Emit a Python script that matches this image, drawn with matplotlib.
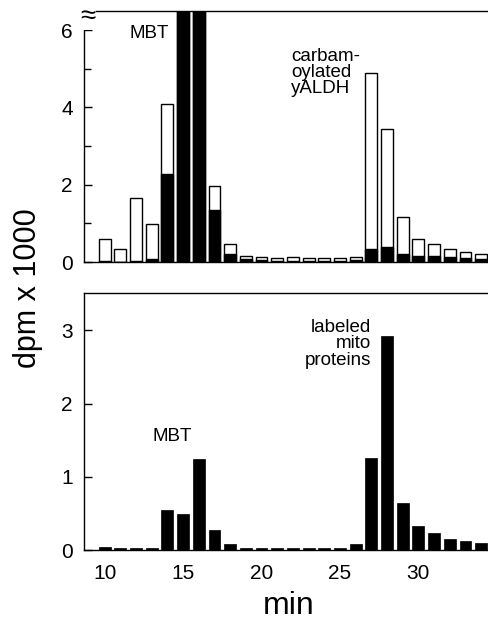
import numpy as np
import matplotlib.pyplot as plt

plt.rcParams['font.family'] = ['Liberation Sans', 'DejaVu Sans']

# fraction minutes
minutes = list(range(10, 35))

# top panel: total (open bar) and black portion, dpm x 1000
top_total = [0.59, 0.35, 1.65, 0.98, 4.08, 7.5, 7.5, 1.98, 0.46, 0.16, 0.12, 0.11,
             0.12, 0.11, 0.11, 0.11, 0.14, 4.88, 3.45, 1.16, 0.59, 0.47, 0.34, 0.27, 0.20]
top_black = [0.02, 0.01, 0.02, 0.07, 2.28, 7.5, 7.5, 1.34, 0.22, 0.08, 0.05, 0.04,
             0.04, 0.04, 0.04, 0.04, 0.05, 0.33, 0.40, 0.22, 0.16, 0.16, 0.13, 0.11, 0.09]

# bottom panel: labeled mito proteins
bottom_vals = [0.05, 0.03, 0.03, 0.03, 0.55, 0.49, 1.25, 0.28, 0.08, 0.03, 0.03, 0.03,
               0.03, 0.03, 0.03, 0.03, 0.08, 1.26, 2.92, 0.64, 0.33, 0.24, 0.155, 0.12, 0.1]

fig = plt.figure(figsize=(4.89, 6.21), dpi=100)
ax1 = fig.add_axes([0.172, 0.578, 0.828, 0.404])
ax2 = fig.add_axes([0.172, 0.114, 0.828, 0.414])

w = 0.76
ax1.bar(minutes, top_total, width=w, color='white', edgecolor='black', linewidth=1.0)
ax1.bar(minutes, top_black, width=w, color='black', edgecolor='black', linewidth=1.0)
ax2.bar(minutes, bottom_vals, width=w, color='black', edgecolor='black', linewidth=0.5)

for ax in (ax1, ax2):
    ax.set_xlim(8.69, 34.5)
    ax.spines['right'].set_visible(False)
    for s in ('left', 'top', 'bottom'):
        ax.spines[s].set_linewidth(1.0)
    ax.tick_params(direction='in', labelsize=15, length=6, width=1, pad=8)
    ax.tick_params(which='minor', direction='in', length=5, width=1)

ax1.set_ylim(0, 6.49)
ax1.set_yticks([0, 2, 4, 6])
ax1.set_yticks([1, 3, 5], minor=True)
ax1.set_xticks([])

ax2.set_ylim(0, 3.51)
ax2.set_yticks([0, 1, 2, 3])
ax2.set_xticks([10, 15, 20, 25, 30])
ax2.tick_params(axis='x', length=0, pad=10)

# break mark at top of the upper axis
ax1.text(0.01, 0.975, '≈', transform=ax1.transAxes, ha='center', va='center',
         fontsize=20, zorder=10,
         bbox=dict(facecolor='white', edgecolor='none', pad=0))

ax1.text(12.84, 5.92, 'MBT', ha='center', va='center', fontsize=13.5)
ax1.text(21.87, 4.9, 'carbam-\noylated\nyALDH', ha='left', va='center',
         fontsize=13.5, linespacing=0.95)
ax2.text(14.33, 1.55, 'MBT', ha='center', va='center', fontsize=13.5)
ax2.text(26.97, 2.82, 'labeled\nmito\nproteins', ha='right', va='center',
         fontsize=13.5, linespacing=0.95)

fig.text(0.057, 0.536, 'dpm x 1000', rotation=90, ha='center', va='center', fontsize=22)
fig.text(0.591, 0.012, 'min', ha='center', va='baseline', fontsize=23)

fig.savefig('out.png', dpi=100)
